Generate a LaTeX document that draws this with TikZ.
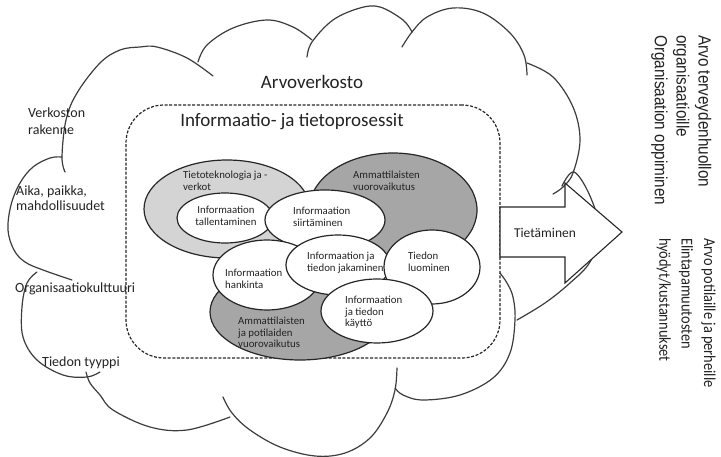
\documentclass[tikz,border=0pt]{standalone}
\usepackage{fontspec}
\usepackage{graphicx}
\setmainfont{Carlito}
\newfontfamily\arialfont{Liberation Sans}
\usetikzlibrary{shapes.geometric}
\definecolor{lightfill}{RGB}{212,212,212}
\definecolor{darkfill}{RGB}{166,166,166}
\definecolor{cloudcol}{RGB}{60,60,60}
\definecolor{txt}{RGB}{35,35,35}
\begin{document}
\begin{tikzpicture}[x=1pt,y=-1pt,
  cloudline/.style={draw=cloudcol, line width=1.2pt, line cap=round},
  ellbase/.style={ellipse, draw=black!85, line width=1.2pt, inner sep=0pt, outer sep=0pt},
  whiteell/.style={ellbase, fill=white},
  smalltxt/.style={font=\fontsize{10.8}{11.5}\selectfont, align=left, inner sep=0pt, text=txt, anchor=north west},
  sidetxt/.style={font=\fontsize{14}{17}\selectfont, align=left, inner sep=0pt, text=txt, anchor=north west},
  titletxt/.style={font=\fontsize{19}{22}\selectfont, inner sep=0pt, text=txt},
  boxline/.style={draw=black!85, line width=1.2pt, dash pattern=on 3pt off 1.6pt},
  arrowbox/.style={draw=black!85, line width=1.1pt, fill=white, line join=miter}
]
\useasboundingbox (0,0) rectangle (721,457);
% ---- cloud bumps ----
\draw[cloudline] plot[smooth, tension=0.6] coordinates {(65,172) (62,157) (66,120) (77,93) (100,63) (120,50) (140,47) (157,47) (187,58) (213,76)};
\draw[cloudline] plot[smooth, tension=0.6] coordinates {(198,62) (207,45) (233,28) (267,20) (293,27) (312,40)};
\draw[cloudline] plot[smooth, tension=0.6] coordinates {(307,57) (312,42) (333,20) (360,8) (380,7) (403,20) (412,32)};
\draw[cloudline] plot[smooth, tension=0.6] coordinates {(402,47) (412,32) (427,17) (453,8) (483,13) (510,33) (524,55) (527,75)};
\draw[cloudline] plot[smooth, tension=0.6] coordinates {(527,63) (553,77) (573,107) (580,140) (573,173) (563,187) (553,194)};
\draw[cloudline] plot[smooth, tension=0.6] coordinates {(562,186) (574,172) (590,196) (600,232) (590,262) (570,283) (545,303) (517,320)};
\draw[cloudline] plot[smooth, tension=0.6] coordinates {(500,273) (507,283) (513,297) (515,320) (510,353) (493,378) (460,395) (423,400) (403,395) (395,388)};
\draw[cloudline] plot[smooth, tension=0.6] coordinates {(397,368) (395,390) (387,413) (370,438) (345,453) (315,456) (280,447) (250,430) (232,413) (223,397)};
\draw[cloudline] plot[smooth, tension=0.6] coordinates {(86,372) (90,383) (100,395) (113,410) (150,427) (187,430) (230,417)};
\draw[cloudline] plot[smooth, tension=0.6] coordinates {(37,272) (27,283) (22,307) (23,337) (37,360) (63,375) (87,377) (100,372)};
\draw[cloudline] plot[smooth, tension=0.6] coordinates {(62,157) (50,158) (33,167) (20,183) (11,205) (8,230) (14,250) (25,262) (43,270) (72,280)};
% ---- dashed process box ----
\node[boxline, rounded corners=38pt, minimum width=374pt, minimum height=253pt, inner sep=0pt] (procbox) at (313,231.5) {};
% ---- ellipses ----
\node[ellbase, fill=lightfill, minimum width=166pt, minimum height=98pt] (tt) at (227,209) {};
\node[ellbase, fill=darkfill, minimum width=168pt, minimum height=114pt] (av) at (393,210) {};
\node[ellbase, fill=darkfill, minimum width=180pt, minimum height=96pt] (ap) at (300,312) {};
\node[whiteell, minimum width=96pt, minimum height=50pt] (tal) at (225,218) {};
\node[whiteell, minimum width=120pt, minimum height=60pt] (sii) at (325,220) {};
\node[whiteell, minimum width=108pt, minimum height=70pt] (han) at (267,275) {};
\node[whiteell, minimum width=104pt, minimum height=60pt] (jak) at (338,265) {};
\node[whiteell, minimum width=96pt, minimum height=74pt] (luo) at (432,267) {};
\node[whiteell, minimum width=112pt, minimum height=64pt] (kay) at (377,311) {};
% ---- ellipse labels ----
\node[smalltxt] (ttl) at (183,171) {Tietoteknologia ja -\\verkot};
\node[smalltxt] (avl) at (353,171) {Ammattilaisten\\vuorovaikutus};
\node[smalltxt, align=center, anchor=center] (tall) at (226,216) {Informaation\\tallentaminen};
\node[smalltxt] (siil) at (293,207) {Informaation\\siirtäminen};
\node[smalltxt] (jakl) at (307,252) {Informaation ja\\tiedon jakaminen};
\node[smalltxt] (luol) at (408,252) {Tiedon\\luominen};
\node[smalltxt] (hanl) at (225,269) {Informaation\\hankinta};
\node[smalltxt] (kayl) at (345,296) {Informaation\\ja tiedon\\käyttö};
\node[smalltxt] (apl) at (238,317) {Ammattilaisten\\ja potilaiden\\vuorovaikutus};
% ---- titles ----
\node[titletxt] (arvoverkosto) at (312,82) {Arvoverkosto};
\node[titletxt] (infoproc) at (292,122) {Informaatio- ja tietoprosessit};
% ---- side labels ----
\node[sidetxt] (verk) at (28,108) {Verkoston\\rakenne};
\node[sidetxt, font=\fontsize{14}{15}\selectfont] (aika) at (16,186) {Aika, paikka,\\mahdollisuudet};
\node[sidetxt] (org) at (15,282.5) {Organisaatiokulttuuri};
\node[sidetxt] (tyyppi) at (42,356.5) {Tiedon tyyppi};
% ---- arrow ----
\draw[arrowbox] (500,207) -- (565,207) -- (565,183) -- (622,232) -- (565,283) -- (565,257) -- (500,257) -- cycle;
\node[font=\fontsize{13.5}{15}\selectfont, text=txt, inner sep=0pt] (tiet) at (545,233) {Tietäminen};
% ---- rotated outcome texts ----
\node[rotate=-90, anchor=north west, inner sep=0pt, text=txt] (valueorg) at (714,35)
  {\scalebox{1}[1.15]{\arialfont\fontsize{15.3}{19}\selectfont\begin{tabular}{@{}l@{}}Arvo terveydenhuollon\\organisaatioille\\Organisaation oppiminen\end{tabular}}};
\node[rotate=-90, anchor=north west, inner sep=0pt, text=txt] (valuepat) at (720,238)
  {\scalebox{1}[1.15]{\fontsize{14.4}{19.5}\selectfont\begin{tabular}{@{}l@{}}Arvo potilaille ja perheille\\Elintapamuutosten\\hyödyt/kustannukset\end{tabular}}};
\end{tikzpicture}
\end{document}
